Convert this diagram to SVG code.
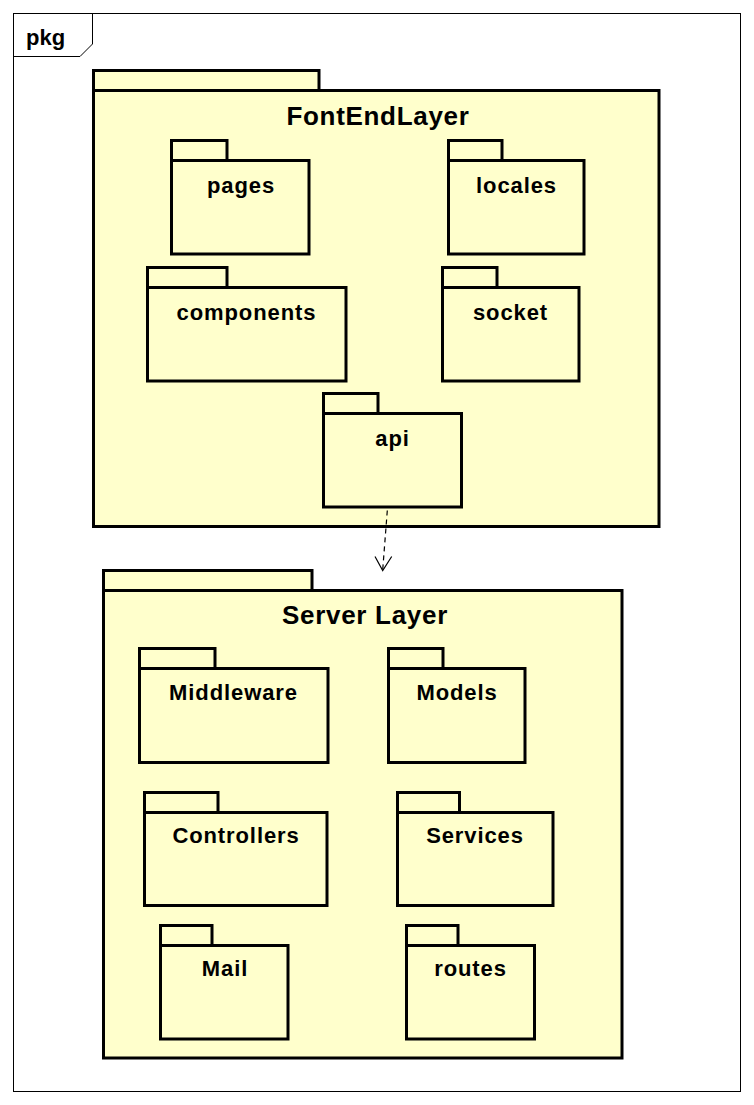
<svg xmlns="http://www.w3.org/2000/svg" width="754" height="1105" viewBox="0 0 754 1105">
<style>
.pk{fill:#FFFFCC;stroke:#000;stroke-width:3}
.t{font-family:"Liberation Sans",Arial,sans-serif;font-weight:bold;font-size:22px;letter-spacing:0.9px;text-anchor:middle;fill:#000}
.tt{font-family:"Liberation Sans",Arial,sans-serif;font-weight:bold;font-size:26px;letter-spacing:0.7px;text-anchor:middle;fill:#000}
.fr{fill:none;stroke:#000;stroke-width:1}
.dep{fill:none;stroke:#000;stroke-width:1.2}
</style>
<rect width="754" height="1105" fill="#fff"/>
<g id="frame">
<rect class="fr" x="13.5" y="13.5" width="727" height="1078"/>
<path class="fr" d="M13.5,56.5 H80 L92.5,44 V13.5"/>
<text x="26" y="45" font-family="Liberation Sans,Arial,sans-serif" font-weight="bold" font-size="22" fill="#000">pkg</text>
</g>
<g id="FontEndLayer">
<rect class="pk" x="93.5" y="70.5" width="225.5" height="20"/>
<rect class="pk" x="93.5" y="90.5" width="565.5" height="436"/>
<text class="tt" x="378" y="125">FontEndLayer</text>
</g>
<g id="pages">
<rect class="pk" x="171.5" y="140.5" width="55.5" height="20"/>
<rect class="pk" x="171.5" y="160.5" width="137.5" height="93.5"/>
<text class="t" x="241" y="193">pages</text>
</g>
<g id="locales">
<rect class="pk" x="448.5" y="140.5" width="53.5" height="20"/>
<rect class="pk" x="448.5" y="160.5" width="135.5" height="93.5"/>
<text class="t" x="516.5" y="193">locales</text>
</g>
<g id="components">
<rect class="pk" x="147.5" y="267.5" width="79.5" height="20"/>
<rect class="pk" x="147.5" y="287.5" width="198.5" height="93.5"/>
<text class="t" x="246.5" y="320">components</text>
</g>
<g id="socket">
<rect class="pk" x="442.5" y="267.5" width="54.5" height="20"/>
<rect class="pk" x="442.5" y="287.5" width="136.5" height="93.5"/>
<text class="t" x="510.5" y="320">socket</text>
</g>
<g id="api">
<rect class="pk" x="323.5" y="393.5" width="54.5" height="20"/>
<rect class="pk" x="323.5" y="413.5" width="138" height="93.5"/>
<text class="t" x="392.5" y="446">api</text>
</g>
<g id="ServerLayer">
<rect class="pk" x="103.5" y="570.5" width="208.5" height="20"/>
<rect class="pk" x="103.5" y="590.5" width="518.5" height="467.5"/>
<text class="tt" x="365" y="624">Server Layer</text>
</g>
<g id="Middleware">
<rect class="pk" x="139.5" y="648.5" width="75.5" height="20"/>
<rect class="pk" x="139.5" y="668.5" width="188.5" height="94"/>
<text class="t" x="233.5" y="700">Middleware</text>
</g>
<g id="Models">
<rect class="pk" x="388.5" y="648.5" width="54.5" height="20"/>
<rect class="pk" x="388.5" y="668.5" width="136.5" height="94"/>
<text class="t" x="457" y="700">Models</text>
</g>
<g id="Controllers">
<rect class="pk" x="144.5" y="792.5" width="73.5" height="20"/>
<rect class="pk" x="144.5" y="812.5" width="182.5" height="93"/>
<text class="t" x="236" y="843">Controllers</text>
</g>
<g id="Services">
<rect class="pk" x="397.5" y="792.5" width="62" height="20"/>
<rect class="pk" x="397.5" y="812.5" width="155.5" height="93"/>
<text class="t" x="475" y="843">Services</text>
</g>
<g id="Mail">
<rect class="pk" x="160.5" y="925.5" width="51.5" height="20"/>
<rect class="pk" x="160.5" y="945.5" width="127.5" height="93.5"/>
<text class="t" x="225" y="976">Mail</text>
</g>
<g id="routes">
<rect class="pk" x="406.5" y="925.5" width="51.5" height="20"/>
<rect class="pk" x="406.5" y="945.5" width="128" height="93.5"/>
<text class="t" x="470.5" y="976">routes</text>
</g>
<g id="connectors">
<path class="dep" d="M387.3,510.5 L382.7,570" stroke-dasharray="5,4"/>
<path class="dep" d="M375,556.5 L382.7,570.5 L391.7,556.5"/>
</g>
</svg>
